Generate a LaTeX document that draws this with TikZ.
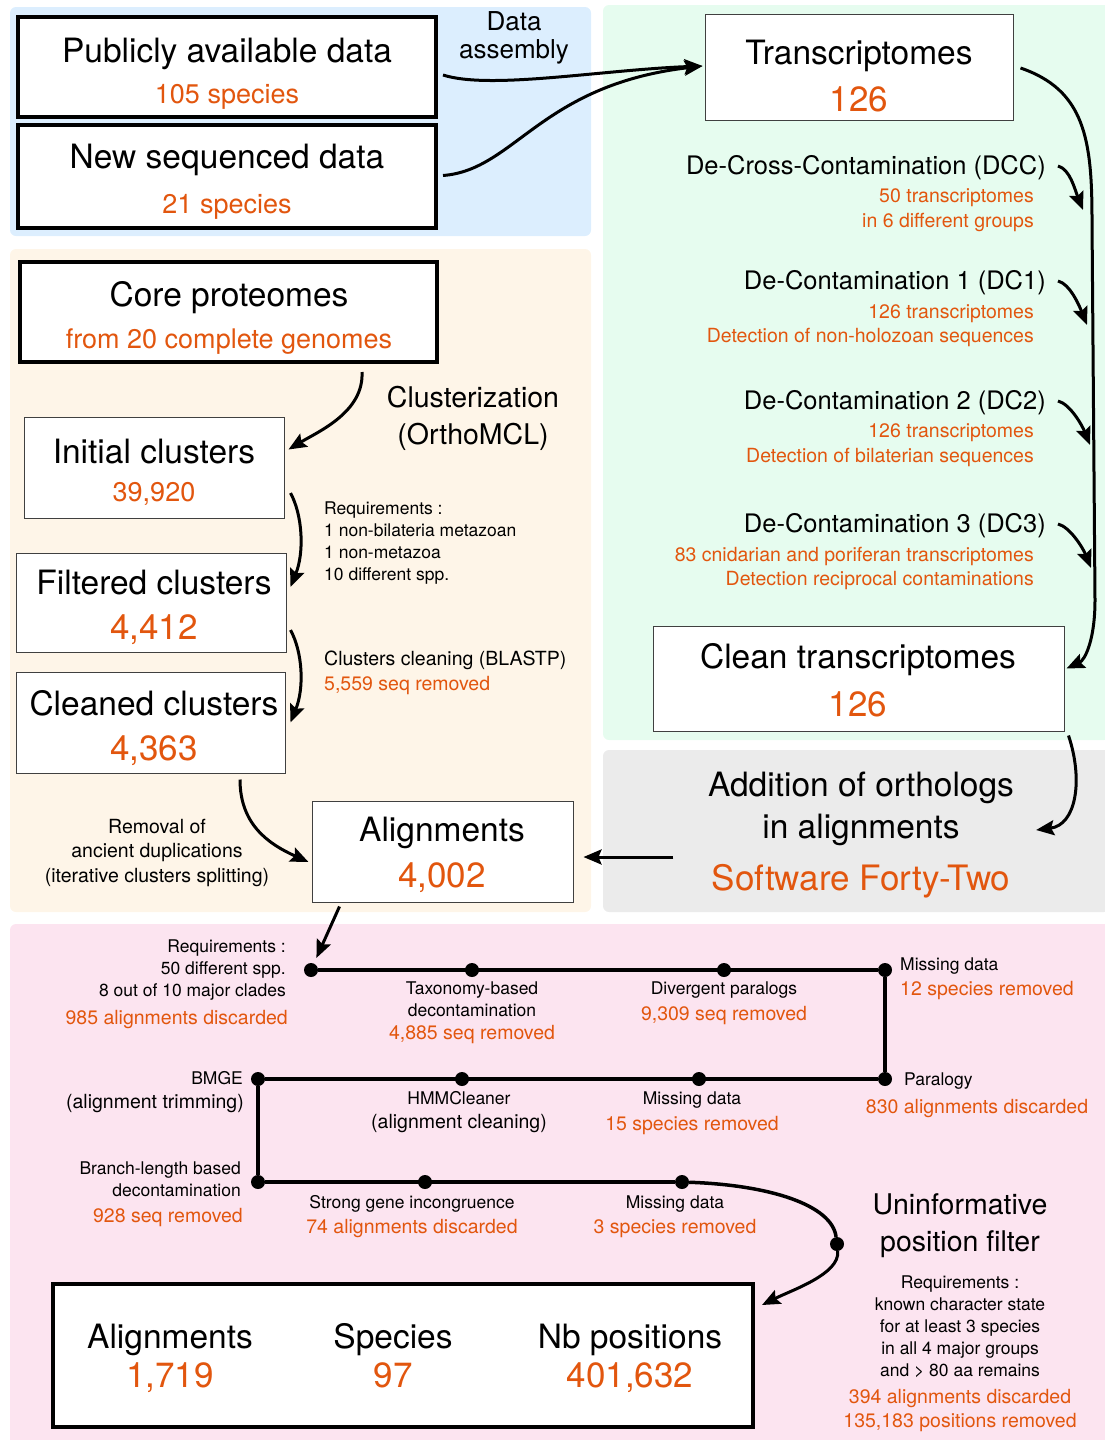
\documentclass[tikz,border=0pt]{standalone}
\usepackage{fontspec}
\setmainfont{TeX Gyre Heros}
\usetikzlibrary{arrows.meta,calc}
\definecolor{orng}{RGB}{226,86,14}
\definecolor{bgblue}{RGB}{220,238,254}
\definecolor{bggreen}{RGB}{230,252,239}
\definecolor{bgbeige}{RGB}{254,245,232}
\definecolor{bggray}{RGB}{235,235,235}
\definecolor{bgpink}{RGB}{252,228,240}
\tikzset{
  boldbox/.style={draw=black,line width=4pt,fill=white,inner sep=0pt},
  thinbox/.style={draw=black!75,line width=1pt,fill=white,inner sep=0pt},
  txt/.style={inner sep=0pt,text depth=0pt},
  titletxt/.style={txt,font=\fontsize{33.5}{42}\selectfont},
  subtxt/.style={txt,text=orng,font=\fontsize{27}{30}\selectfont},
  numtxt/.style={txt,text=orng,font=\fontsize{35}{38}\selectfont},
  headtxt/.style={txt,font=\fontsize{25.5}{28}\selectfont},
  midtxt/.style={txt,font=\fontsize{28.5}{37}\selectfont},
  notetxt/.style={txt,font=\fontsize{19.5}{24.5}\selectfont},
  onotetxt/.style={notetxt,text=orng},
  smalltxt/.style={txt,font=\fontsize{17.5}{22}\selectfont},
  flowarrow/.style={-{Stealth[length=18pt,width=15pt,inset=3pt]},line width=3pt},
  pipe/.style={line width=3.5pt},
  pdot/.style={circle,fill=black,inner sep=0pt,minimum size=14pt},
}
\begin{document}
\begin{tikzpicture}[x=1pt,y=-1pt]
  \useasboundingbox (0,0) rectangle (1105,1440);
  \fill[bgblue,rounded corners=6pt] (10,7) rectangle (591,236); % data
  \fill[bggreen,rounded corners=6pt] (603,5) rectangle (1110,740); % transcriptomes
  \fill[bgbeige,rounded corners=6pt] (10,249) rectangle (591,912); % clusters
  \fill[bggray,rounded corners=6pt] (603,750) rectangle (1110,912); % Forty-Two
  \fill[bgpink,rounded corners=6pt] (10,924) rectangle (1110,1445); % filters

  % data assembly
  \node[boldbox,minimum width=418pt,minimum height=100pt] (pub) at (227,67) {};
  \node[titletxt] (pub-t) at (227,50) {Publicly available data};
  \node[subtxt] (pub-n) at (227,94) {105 species};
  \node[boldbox,minimum width=418pt,minimum height=103pt] (new) at (227,176.5) {};
  \node[titletxt] (new-t) at (227,156) {New sequenced data};
  \node[subtxt] (new-n) at (227,204) {21 species};
  \node[midtxt,align=center,font=\fontsize{26}{28}\selectfont] (asm) at (514,35) {Data\\assembly};

  % transcriptomes
  \node[thinbox,minimum width=308pt,minimum height=106pt] (trans) at (859,67) {};
  \node[titletxt] (trans-t) at (859,52) {Transcriptomes};
  \node[numtxt] (trans-n) at (859,99) {126};
  \node[headtxt,anchor=east] (dcc) at (1046,165) {De-Cross-Contamination (DCC)};
  \node[onotetxt,anchor=east,align=right] (dcc-n) at (1034,208) {50 transcriptomes\\in 6 different groups};
  \node[headtxt,anchor=east] (dc1) at (1046,280) {De-Contamination 1 (DC1)};
  \node[onotetxt,anchor=east,align=right] (dc1-n) at (1034,323.5) {126 transcriptomes\\Detection of non-holozoan sequences};
  \node[headtxt,anchor=east] (dc2) at (1046,400) {De-Contamination 2 (DC2)};
  \node[onotetxt,anchor=east,align=right] (dc2-n) at (1034,443) {126 transcriptomes\\Detection of bilaterian sequences};
  \node[headtxt,anchor=east] (dc3) at (1046,523) {De-Contamination 3 (DC3)};
  \node[onotetxt,anchor=east,align=right] (dc3-n) at (1034,566.5) {83 cnidarian and poriferan transcriptomes\\Detection reciprocal contaminations};
  \node[thinbox,minimum width=411pt,minimum height=105pt] (clean) at (858.5,678.5) {};
  \node[titletxt] (clean-t) at (858,656) {Clean transcriptomes};
  \node[numtxt] (clean-n) at (858,704) {126};

  % clusters
  \node[boldbox,minimum width=417pt,minimum height=100pt] (core) at (228.5,312) {};
  \node[titletxt] (core-t) at (229,294) {Core proteomes};
  \node[subtxt] (core-n) at (229,339) {from 20 complete genomes};
  \node[midtxt,align=center] (clu) at (473,415.5) {Clusterization\\(OrthoMCL)};
  \node[thinbox,minimum width=260pt,minimum height=101pt] (init) at (154,467.5) {};
  \node[titletxt] (init-t) at (154,451) {Initial clusters};
  \node[subtxt] (init-n) at (154,492) {39,920};
  \node[smalltxt,anchor=west,align=left] (req1) at (324,541) {Requirements :\\1 non-bilateria metazoan\\1 non-metazoa\\10 different spp.};
  \node[thinbox,minimum width=270pt,minimum height=99pt] (filt) at (151,602.5) {};
  \node[titletxt] (filt-t) at (154,582) {Filtered clusters};
  \node[numtxt] (filt-n) at (154,627) {4,412};
  \node[notetxt,anchor=west] (blast) at (324,658) {Clusters cleaning (BLASTP)};
  \node[onotetxt,anchor=west] (blast-n) at (324,683) {5,559 seq removed};
  \node[thinbox,minimum width=269pt,minimum height=101pt] (cleaned) at (150.5,722.5) {};
  \node[titletxt] (cleaned-t) at (154,703) {Cleaned clusters};
  \node[numtxt] (cleaned-n) at (154,748) {4,363};
  \node[notetxt,align=center] (rem) at (157,850.5) {Removal of\\ancient duplications\\(iterative clusters splitting)};
  \node[thinbox,minimum width=261pt,minimum height=101pt] (aln) at (442.5,851.5) {};
  \node[titletxt] (aln-t) at (442,829) {Alignments};
  \node[numtxt] (aln-n) at (442,875) {4,002};

  % Forty-Two
  \node[titletxt,align=center] (add) at (861,805) {Addition of orthologs\\in alignments};
  \node[numtxt] (sw) at (861,877) {Software Forty-Two};

  % arrows
  \draw[flowarrow] ($(pub.east)+(5,8)$) .. controls (490,90) and (600,70) .. ($(trans.west)+(-2,-1)$);
  \draw[flowarrow] ($(new.east)+(5,-1)$) .. controls (515,170) and (540,85) .. ($(trans.west)+(-2,-1)$);
  \draw[flowarrow] ($(trans.east)+(7,1)$) .. controls (1085,90) and (1092,140) .. (1092,220)
    -- (1095,600) .. controls (1095,640) and (1085,660) .. ($(clean.east)+(2,-10)$);
  \foreach \n/\dx in {dcc/37,dc1/41,dc2/44,dc3/45}
    \draw[flowarrow] ($(\n.east)+(12,1)$) .. controls +(12,3) and +(-8,-20) .. ($(\n.east)+(\dx,45)$);
  \draw[flowarrow] ($(core.south east)+(-77,8)$) .. controls +(2,40) and +(30,-18) .. ($(init.east)+(4,-18)$);
  \draw[flowarrow] ($(init.east)+(6,25.5)$) .. controls +(12,22) and +(14,-35) .. ($(filt.east)+(4,-15.5)$);
  \draw[flowarrow] ($(filt.east)+(4,27.5)$) .. controls +(12,22) and +(14,-35) .. ($(cleaned.east)+(5,0)$);
  \draw[flowarrow] ($(cleaned.south)+(89.5,6)$) .. controls +(0,45) and +(-40,-18) .. ($(aln.west)+(-3,10.5)$);
  \draw[flowarrow] ($(clean.south east)+(4,4)$) .. controls +(15,45) and +(40,-5) .. ($(add.east)+(22,25)$);
  \draw[flowarrow] ($(sw.west)+(-38,-20)$) -- ($(aln.east)+(10,5.5)$);

  % filtering pipeline
  \foreach \n/\x/\y in {p1/311/970,p2/472/970,p3/724/970,p4/885/970,
                        q1/258/1079,q2/462/1079,q3/699/1079,q4/885/1079,
                        r1/258/1182,r2/425/1182,r3/682/1182,r4/837/1244}
    \node[pdot] (\n) at (\x,\y) {};
  \draw[pipe] (p1) -- (p4) -- (q4) -- (q1) -- (r1) -- (r3);
  \draw[pipe] (r3) .. controls +(88,3) and +(-5,-39) .. (r4);
  \draw[flowarrow,shorten >=6pt] ($(aln.south west)+(28,4)$) -- (p1);

  \node[smalltxt,anchor=east,align=right] (req2) at (286,968) {Requirements :\\50 different spp.\\8 out of 10 major clades};
  \node[onotetxt,anchor=east] (req2-n) at (288,1017) {985 alignments discarded};
  \node[smalltxt,align=center] (tax) at (472,999) {Taxonomy-based\\decontamination};
  \node[onotetxt] (tax-n) at (472,1032) {4,885 seq removed};
  \node[smalltxt] (div) at (724,988) {Divergent paralogs};
  \node[onotetxt] (div-n) at (724,1013) {9,309 seq removed};
  \node[smalltxt,anchor=west] (md1) at (900,964) {Missing data};
  \node[onotetxt,anchor=west] (md1-n) at (900,988) {12 species removed};
  \node[smalltxt,anchor=west] (par) at (904,1079) {Paralogy};
  \node[onotetxt] (par-n) at (977,1106) {830 alignments discarded};
  \node[smalltxt,anchor=east] (bmge) at (243,1078) {BMGE};
  \node[notetxt,anchor=east] (bmge-n) at (244,1101) {(alignment trimming)};
  \node[smalltxt] (hmm) at (459,1098) {HMMCleaner};
  \node[notetxt] (hmm-n) at (459,1121) {(alignment cleaning)};
  \node[smalltxt] (md2) at (692,1098) {Missing data};
  \node[onotetxt] (md2-n) at (692,1123) {15 species removed};
  \node[smalltxt,anchor=east,align=right] (brl) at (241,1179) {Branch-length based\\decontamination};
  \node[onotetxt,anchor=east] (brl-n) at (243,1215) {928 seq removed};
  \node[smalltxt] (sgi) at (412,1202) {Strong gene incongruence};
  \node[onotetxt] (sgi-n) at (412,1226) {74 alignments discarded};
  \node[smalltxt] (md3) at (675,1202) {Missing data};
  \node[onotetxt] (md3-n) at (675,1226) {3 species removed};
  \node[midtxt,align=center] (uni) at (960,1222.5) {Uninformative\\position filter};
  \node[smalltxt,align=center] (req3) at (960,1326) {Requirements :\\known character state\\for at least 3 species\\in all 4 major groups\\and > 80 aa remains};
  \node[onotetxt,align=center] (req3-n) at (960,1408.5) {394 alignments discarded\\135,183 positions removed};

  % final dataset
  \node[boldbox,minimum width=700pt,minimum height=143pt] (final) at (403,1355.5) {};
  \foreach \n/\x/\t/\v in {fa/170/Alignments/{1,719},fs/393/Species/97,fp/630/Nb positions/{401,632}}{
    \node[titletxt] (\n-t) at (\x,1336) {\t};
    \node[numtxt] (\n-n) at (\x,1375) {\v};
  }
  \draw[flowarrow] (r4) .. controls +(3,30) and +(30,-15) .. ($(final.north east)+(7,23)$);
\end{tikzpicture}
\end{document}
